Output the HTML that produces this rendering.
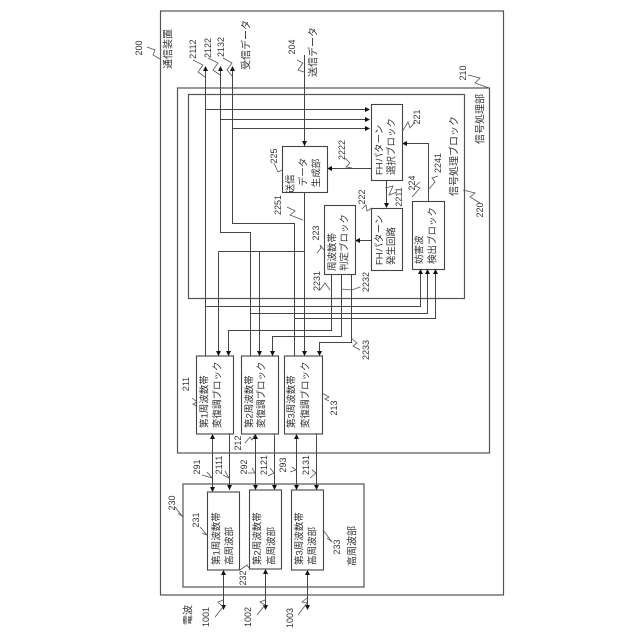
<!DOCTYPE html>
<html>
<head>
<meta charset="utf-8">
<style>
html,body{margin:0;padding:0;background:#fff;width:640px;height:640px;overflow:hidden}
svg{display:block}
text{font-family:"Liberation Sans","Noto Sans CJK JP",sans-serif;font-size:9.5px;fill:#333;text-anchor:middle;dominant-baseline:central}
.s{text-anchor:start}
.n{font-size:9px}
.l{font-size:10px}
.b{fill:none;stroke:#555;stroke-width:1.2}
.w{fill:#fff;stroke:#444;stroke-width:1.1}
.c{fill:none;stroke:#444;stroke-width:1}
.q{fill:none;stroke:#555;stroke-width:.8}
.a{fill:#111;stroke:none}
</style>
</head>
<body>
<svg width="640" height="640" viewBox="0 0 640 640" xmlns="http://www.w3.org/2000/svg">
<rect x="160.500" y="11" width="343" height="584" class="b"/>
<rect x="177.500" y="88" width="312" height="365" class="b"/>
<rect x="188.500" y="94.500" width="276" height="204" class="b"/>
<rect x="183" y="484" width="181" height="103" class="b"/>

<path class="c" d="M205.500 70V356M205.500 109.500H368M220.500 70V232.500H250.500V356M220.500 119.500H368M232.500 70V223.500H294.500V356M232.500 128.500H368"/>
<path class="c" d="M304.500 55V146M304.500 192V356M218.500 251.500H304.500M218.500 251.500V356M259.500 251.500V356"/>
<path class="c" d="M205.500 306.500H420.500V271M250.500 313.500H427.500V271M294.500 318.500H435.500V271"/>
<path class="c" d="M331.500 274V330.500H228.500V356M341.500 274V336.500H272.500V356M351.500 274V342.500H319.500V356"/>
<path class="c" d="M371 168.500H329M386.500 180V207M371 240.500H357M428.500 201V143.500H404"/>
<path class="c" d="M212.500 436V490M229.500 436V490M255.500 436V488M274.500 436V488M296.500 436V488M316.500 436V488"/>
<path class="c" d="M223.500 572V608M265.500 572V608M307.500 572V608"/>

<path class="a" d="M205.500 66l-2.500 5h5zM220.500 66l-2.500 5h5zM232.500 66l-2.500 5h5z"/>
<path class="a" d="M304.500 146l-2.500-5h5zM218.500 356l-2.500-5h5zM228.500 356l-2.500-5h5zM259.500 356l-2.500-5h5zM272.500 356l-2.500-5h5zM304.500 356l-2.500-5h5zM319.500 356l-2.500-5h5z"/>
<path class="a" d="M370 109.500l-5-2.500v5zM370 119.500l-5-2.500v5zM370 128.500l-5-2.500v5zM327 168.500l5-2.500v5zM386.500 208l-2.500-5h5zM355 240.500l5-2.500v5zM402 143.500l5-2.500v5z"/>
<path class="a" d="M420.500 269l-2.500 5h5zM427.500 269l-2.500 5h5zM435.500 269l-2.500 5h5z"/>
<path class="a" d="M212.500 434l-2.500 5h5zM255.500 434l-2.500 5h5zM296.500 434l-2.500 5h5zM229.500 436l-2.500-5h5zM274.500 436l-2.500-5h5zM316.500 436l-2.500-5h5z"/>
<path class="a" d="M212.500 492l-2.500-5h5zM255.500 490l-2.500-5h5zM296.500 490l-2.500-5h5zM229.500 490l-2.500-5h5zM274.500 490l-2.500-5h5zM316.500 490l-2.500-5h5z"/>
<path class="a" d="M223.500 570l-2.500 5h5zM265.500 569l-2.500 5h5zM307.500 570l-2.500 5h5zM223.500 610l-2.500-5h5zM265.500 610l-2.500-5h5zM307.500 610l-2.500-5h5z"/>

<rect x="282.500" y="146.500" width="45" height="46" class="w"/>
<rect x="371.500" y="104.500" width="31" height="76" class="w"/>
<rect x="371.500" y="208.500" width="31" height="62" class="w"/>
<rect x="324.500" y="205.500" width="31" height="69" class="w"/>
<rect x="412.500" y="201.500" width="32" height="68" class="w"/>
<rect x="196.500" y="356" width="37" height="78" class="w"/>
<rect x="241.500" y="356" width="37" height="78" class="w"/>
<rect x="284.500" y="356" width="38" height="78" class="w"/>
<rect x="207.500" y="492" width="32" height="78" class="w"/>
<rect x="249.500" y="490" width="32" height="79" class="w"/>
<rect x="291.500" y="490" width="32" height="80" class="w"/>

<path class="q" d="M147 47L155 50L153 55L160 59M193 60L203 65L198 72L205 77M208 58L218 63L213 70L220 75M223 58L232 63L227 70L232 76M297 60L303 63L298 70L304 72M274 163L278 172L282 170M468 75L480 78L475 83L489 88M463 190L475 193L470 197L480 203"/>
<path class="q" d="M402 132L408 122L410 128L415 122M345 158L350 163L346 167L352 168M428 190L435 182L432 178L438 176M412 197L420 188L415 186L420 182M385 188L393 186L389 195L397 192M362 209L366 205L367 211L372 208"/>
<path class="q" d="M317 253L321 248L320 245L324 250M320 290L325 283L330 290M341 289L352 290L360 287M351 338L357 343L353 346L360 350M287 207L295 211L290 215L303 220"/>
<path class="q" d="M192 398L197 402L193 404L196 406M322 393L329 397L325 399L329 401M245 443L250 437L252 440L255 434M202 475L212 478L207 472M223 475L229 478L225 471M248 473L255 473L252 468M268 476L274 473L270 468M290 472L296 470L292 467M310 478L316 473L312 470"/>
<path class="q" d="M175 507L183 517L178 513M200 527L207 535L202 533M240 570L247 565L249 568M323 530L332 542L327 538M215 617L223 607L218 602L223 600M257 615L265 605L260 602L265 600M298 615L307 603L302 602L307 598"/>

<text class="l" transform="rotate(-90 169 49)" x="169" y="49">通信装置</text>
<text class="n" transform="rotate(-90 139 48)" x="139" y="48">200</text>
<text class="n" transform="rotate(-90 193 49)" x="193" y="49">2112</text>
<text class="n" transform="rotate(-90 208 48)" x="208" y="48">2122</text>
<text class="n" transform="rotate(-90 221 47)" x="221" y="47">2132</text>
<text class="l" transform="rotate(-90 247 45)" x="247" y="45">受信データ</text>
<text class="n" transform="rotate(-90 292 47)" x="292" y="47">204</text>
<text class="l" transform="rotate(-90 314 52)" x="314" y="52">送信データ</text>
<text class="n" transform="rotate(-90 274 156)" x="274" y="156">225</text>
<text transform="rotate(-90 291 184)" x="291" y="184">送信</text>
<text transform="rotate(-90 304 172)" x="304" y="172">データ</text>
<text transform="rotate(-90 317 173)" x="317" y="173">生成部</text>
<text class="n" transform="rotate(-90 463 73)" x="463" y="73">210</text>
<text class="l" transform="rotate(-90 481 119)" x="481" y="119">信号処理部</text>
<text class="n" transform="rotate(-90 480 210)" x="480" y="210">220</text>
<text class="l" transform="rotate(-90 455 156)" x="455" y="156">信号処理ブロック</text>
<text class="n" transform="rotate(-90 417 117)" x="417" y="117">221</text>
<text class="s" transform="rotate(-90 380 175)" x="380" y="175">FHパターン</text>
<text class="s" transform="rotate(-90 392 175)" x="392" y="175">選択ブロック</text>
<text class="n" transform="rotate(-90 342 150)" x="342" y="150">2222</text>
<text class="n" transform="rotate(-90 438 163)" x="438" y="163">2241</text>
<text class="n" transform="rotate(-90 412 183)" x="412" y="183">224</text>
<text class="n" transform="rotate(-90 399 197)" x="399" y="197">2211</text>
<text class="n" transform="rotate(-90 362 197)" x="362" y="197">222</text>
<text class="n" transform="rotate(-90 316 233)" x="316" y="233">223</text>
<text class="n" transform="rotate(-90 317 281)" x="317" y="281">2231</text>
<text class="n" transform="rotate(-90 366 282)" x="366" y="282">2232</text>
<text class="n" transform="rotate(-90 366 350)" x="366" y="350">2233</text>
<text class="n" transform="rotate(-90 278 205)" x="278" y="205">2251</text>
<text class="s" transform="rotate(-90 333 271)" x="333" y="271">周波数帯</text>
<text class="s" transform="rotate(-90 345 271)" x="345" y="271">判定ブロック</text>
<text class="s" transform="rotate(-90 380 265)" x="380" y="265">FHパターン</text>
<text class="s" transform="rotate(-90 392 265)" x="392" y="265">発生回路</text>
<text class="s" transform="rotate(-90 420 264)" x="420" y="264">妨害波</text>
<text class="s" transform="rotate(-90 433 264)" x="433" y="264">検出ブロック</text>
<text class="s" transform="rotate(-90 205 428)" x="205" y="428">第1周波数帯</text>
<text class="s" transform="rotate(-90 218 428)" x="218" y="428">変復調ブロック</text>
<text class="s" transform="rotate(-90 250 428)" x="250" y="428">第2周波数帯</text>
<text class="s" transform="rotate(-90 262 428)" x="262" y="428">変復調ブロック</text>
<text class="s" transform="rotate(-90 292 428)" x="292" y="428">第3周波数帯</text>
<text class="s" transform="rotate(-90 306 428)" x="306" y="428">変復調ブロック</text>
<text class="n" transform="rotate(-90 186 384)" x="186" y="384">211</text>
<text class="n" transform="rotate(-90 238 443)" x="238" y="443">212</text>
<text class="n" transform="rotate(-90 334 408)" x="334" y="408">213</text>
<text class="n" transform="rotate(-90 197 467)" x="197" y="467">291</text>
<text class="n" transform="rotate(-90 219 465)" x="219" y="465">2111</text>
<text class="n" transform="rotate(-90 244 467)" x="244" y="467">292</text>
<text class="n" transform="rotate(-90 264 465)" x="264" y="465">2121</text>
<text class="n" transform="rotate(-90 283 465)" x="283" y="465">293</text>
<text class="n" transform="rotate(-90 306 465)" x="306" y="465">2131</text>
<text class="s" transform="rotate(-90 217 565)" x="217" y="565">第1周波数帯</text>
<text class="s" transform="rotate(-90 230 565)" x="230" y="565">高周波部</text>
<text class="s" transform="rotate(-90 258 565)" x="258" y="565">第2周波数帯</text>
<text class="s" transform="rotate(-90 272 565)" x="272" y="565">高周波部</text>
<text class="s" transform="rotate(-90 300 565)" x="300" y="565">第3周波数帯</text>
<text class="s" transform="rotate(-90 313 565)" x="313" y="565">高周波部</text>
<text class="l" transform="rotate(-90 353 546)" x="353" y="546">高周波部</text>
<text class="n" transform="rotate(-90 172 503)" x="172" y="503">230</text>
<text class="n" transform="rotate(-90 196 520)" x="196" y="520">231</text>
<text class="n" transform="rotate(-90 243 578)" x="243" y="578">232</text>
<text class="n" transform="rotate(-90 337 547)" x="337" y="547">233</text>
<text class="l" transform="rotate(-90 189 615)" x="189" y="615">電波</text>
<text class="n" transform="rotate(-90 206 617)" x="206" y="617">1001</text>
<text class="n" transform="rotate(-90 248 617)" x="248" y="617">1002</text>
<text class="n" transform="rotate(-90 290 618)" x="290" y="618">1003</text>
</svg>
</body>
</html>
